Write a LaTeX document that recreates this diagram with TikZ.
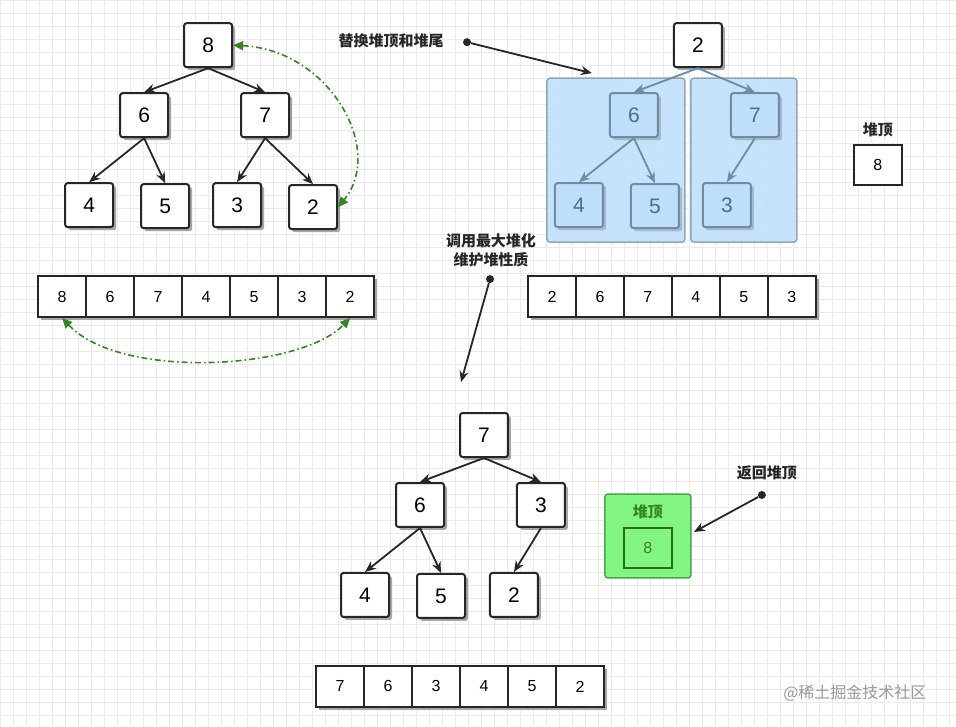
\documentclass[tikz,border=0pt]{standalone}
\usepackage{fontspec}
\setmainfont{Liberation Sans}
\newfontfamily\cjk{Noto Sans CJK SC}
\usetikzlibrary{shadows,arrows.meta}
\definecolor{bluebox}{RGB}{196,226,252}
\definecolor{blueline}{RGB}{110,140,165}
\definecolor{bluetext}{RGB}{75,110,140}
\definecolor{bluenode}{RGB}{190,222,250}
\definecolor{darkgreen}{RGB}{50,135,30}
\definecolor{greenbox}{RGB}{130,245,130}
\definecolor{greenline}{RGB}{70,170,70}
\begin{document}
\begin{tikzpicture}[x=1pt,y=-1pt,
 nd/.style={draw=black!85,line width=2pt,rounded corners=2.5pt,fill=white,minimum width=48pt,minimum height=44pt,font=\fontsize{21}{21}\selectfont,drop shadow={shadow xshift=3pt,shadow yshift=-3pt,fill=black!35,opacity=1}},
 bn/.style={nd,fill=bluenode,draw=blueline,text=bluetext,drop shadow={shadow xshift=3pt,shadow yshift=-3pt,fill=blueline!60,opacity=1}},
 cell/.style={draw=black!85,line width=1.8pt,fill=white,minimum width=48pt,minimum height=41pt,font=\fontsize{16}{16}\selectfont},
 ed/.style={-{Stealth[length=11pt,width=9pt]},line width=1.8pt,black!85},
 bed/.style={ed,draw=blueline},
 gr/.style={{Triangle[length=10pt,width=9pt,fill=darkgreen]}-{Triangle[length=10pt,width=9pt,fill=darkgreen]},draw=darkgreen,line width=1.6pt,dash pattern=on 6pt off 3pt on 1.5pt off 3pt},
 lab/.style={font=\cjk\bfseries\fontsize{15}{19}\selectfont,text=black!85,align=center},
 dot/.style={circle,fill=black!85,inner sep=0pt,minimum size=8pt}]
\fill[white] (0,0) rectangle (956,726);
\draw[black!8,step=13pt] (0,0) grid (956,726);
% top-left tree
\node[nd] (a8) at (208,45) {8};
\node[nd] (a6) at (144,115) {6};
\node[nd] (a7) at (265,115) {7};
\node[nd] (a4) at (89,205) {4};
\node[nd] (a5) at (165,206) {5};
\node[nd] (a3) at (237,205) {3};
\node[nd] (a2) at (313,207) {2};
\draw[ed] (a8.south) -- (a6.north);
\draw[ed] (a8.south) -- (a7.north);
\draw[ed] (a6.south) -- (a4.north);
\draw[ed] (a6.south) -- (a5.north);
\draw[ed] (a7.south) -- (a3.north);
\draw[ed] (a7.south) -- (a2.north);
\draw[gr] (a8.east) .. controls (330,50) and (385,150) .. (a2.east);
% array 1
\foreach \v [count=\i] in {8,6,7,4,5,3,2}{
 \node[cell,drop shadow={shadow xshift=3pt,shadow yshift=-3pt,fill=black!35,opacity=1}] (p\i) at (14+48*\i,296.5) {\v};}
\draw[gr] (p1.south) .. controls (120,380) and (300,370) .. (p7.south);
% top-right
\node[nd] (b2) at (698,45) {2};
\fill[bluebox,draw=blueline!80,line width=1.5pt,rounded corners=3pt,opacity=0.95] (547,78) rectangle (685,242);
\fill[bluebox,draw=blueline!80,line width=1.5pt,rounded corners=3pt,opacity=0.95] (691,78) rectangle (797,242);
\node[bn] (b6) at (634,115) {6};
\node[bn] (b7) at (755,115) {7};
\node[bn] (b4) at (579,205) {4};
\node[bn] (b5) at (655,206) {5};
\node[bn] (b3) at (727,205) {3};
\draw[bed] (b2.south) -- (b6.north);
\draw[bed] (b2.south) -- (b7.north);
\draw[bed] (b6.south) -- (b4.north);
\draw[bed] (b6.south) -- (b5.north);
\draw[bed] (b7.south) -- (b3.north);
\node[lab] (t1) at (878,130) {堆顶};
\node[cell,minimum height=40pt,minimum width=48pt] (top1) at (878,165) {8};
\foreach \v [count=\i] in {2,6,7,4,5,3}{
 \node[cell,drop shadow={shadow xshift=3pt,shadow yshift=-3pt,fill=black!35,opacity=1}] (q\i) at (504+48*\i,296.5) {\v};}
% labels
\node[lab] (l1) at (391,41) {替换堆顶和堆尾};
\node[dot] (d1) at (467,42) {};
\coordinate (e1) at (592,73);
\draw[ed] (d1) -- (e1);
\node[lab] (l2) at (491,250) {调用最大堆化\\维护堆性质};
\node[dot] (d2) at (490,279) {};
\coordinate (e2) at (461,382);
\draw[ed] (d2) -- (e2);
% bottom tree
\node[nd] (c7) at (484,435) {7};
\node[nd] (c6) at (420,505) {6};
\node[nd] (c3) at (541,505) {3};
\node[nd] (c4) at (365,595) {4};
\node[nd] (c5) at (441,596) {5};
\node[nd] (c2) at (514,595) {2};
\draw[ed] (c7.south) -- (c6.north);
\draw[ed] (c7.south) -- (c3.north);
\draw[ed] (c6.south) -- (c4.north);
\draw[ed] (c6.south) -- (c5.north);
\draw[ed] (c3.south) -- (c2.north);
\foreach \v [count=\i] in {7,6,3,4,5,2}{
 \node[cell,drop shadow={shadow xshift=3pt,shadow yshift=-3pt,fill=black!35,opacity=1}] (r\i) at (292+48*\i,686.5) {\v};}
% green box
\node[draw=greenline,fill=greenbox,line width=1.5pt,rounded corners=3pt,minimum width=86pt,minimum height=84pt] (gb) at (648,536) {};
\node[lab,text=darkgreen] (t2) at (648,512) {堆顶};
\node[cell,minimum height=40pt,draw=darkgreen!80!black,fill=greenbox,text=darkgreen] (top2) at (648,548) {8};
\node[lab] (l3) at (767,473) {返回堆顶};
\node[dot] (d3) at (762,495) {};
\coordinate (e3) at (694,532);
\draw[ed] (d3) -- (e3);
\node[font=\cjk\fontsize{16}{18}\selectfont,text=black!40] (wm) at (855,693) {@稀土掘金技术社区};
\end{tikzpicture}
\end{document}
